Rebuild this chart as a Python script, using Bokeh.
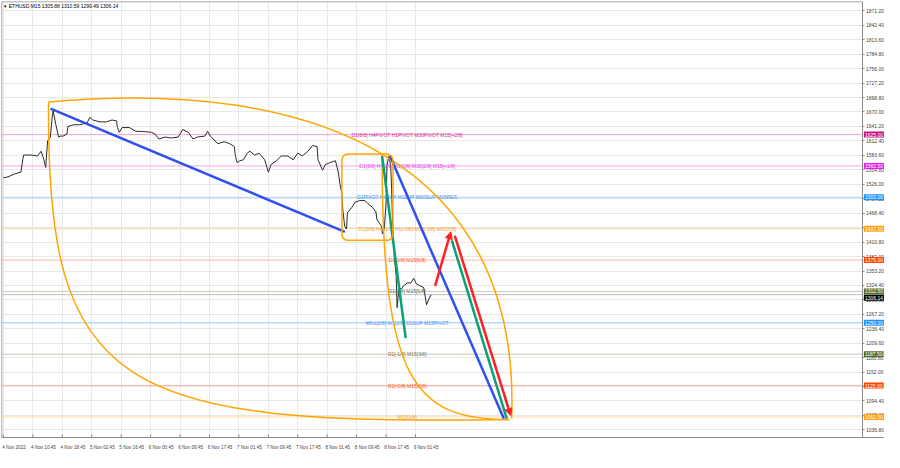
from bokeh.plotting import figure
from bokeh.models import (Range1d, FixedTicker, ColumnDataSource, Label,
                          BoxAnnotation, Arrow, NormalHead)
from bokeh.core.properties import value
from bokeh.embed import file_html
from bokeh.resources import INLINE

FONT = "Liberation Sans"

SYMBOL = "ETHUSD,M15"
LAST_OHLC = [1305.88, 1310.59, 1299.49, 1306.14]

# price path (bar index, close)
BAR = [0, 5, 12, 19, 21, 22, 30, 37, 41, 44,
       46, 48, 51, 53, 54, 57, 60, 62, 65, 69,
       70, 76, 83, 91, 94, 97, 105, 112, 118, 123,
       124, 126, 129, 137, 144, 150, 161, 165, 169, 176,
       182, 190, 195, 201, 206, 211, 219, 222, 225, 233,
       240, 246, 251, 252, 254, 257, 261, 265, 268, 273,
       278, 284, 288, 291, 297, 302, 309, 315, 320, 325,
       331, 336, 341, 342, 347, 350, 355, 361, 364, 366,
       368, 369, 371, 373, 374, 379, 382, 387, 393, 396,
       401, 405, 406, 411, 412, 414, 416, 417, 419, 421,
       422, 423, 425, 427, 428, 430, 433, 435, 439, 443,
       446, 449, 453, 457, 460, 462, 465]
CLOSE = [1538.9, 1540.8, 1546.5, 1550.2, 1574.8, 1584.3, 1584.3, 1582.4, 1591.8, 1574.8,
         1559.7, 1612.5, 1620.1, 1659.7, 1672.9, 1644.6, 1620.1, 1622.0, 1622.0, 1625.8,
         1640.9, 1644.6, 1644.6, 1648.4, 1659.7, 1654.1, 1650.3, 1650.3, 1654.1, 1652.2,
         1639.0, 1629.5, 1639.0, 1639.0, 1631.4, 1631.4, 1629.5, 1625.8, 1616.3, 1620.1,
         1618.2, 1620.1, 1635.2, 1629.5, 1616.3, 1620.1, 1622.0, 1631.4, 1622.0, 1606.9,
         1610.7, 1606.9, 1601.2, 1584.3, 1569.1, 1572.9, 1574.8, 1588.0, 1591.8, 1584.3,
         1588.0, 1574.8, 1550.2, 1565.3, 1572.9, 1582.4, 1582.4, 1574.8, 1588.0, 1582.4,
         1591.8, 1603.1, 1601.2, 1574.8, 1554.0, 1565.3, 1569.1, 1572.9, 1550.2, 1525.7,
         1506.8, 1474.7, 1442.6, 1436.9, 1469.1, 1480.4, 1489.8, 1493.6, 1493.6, 1487.9,
         1480.4, 1471.0, 1455.8, 1442.6, 1427.5, 1436.9, 1487.9, 1563.5, 1582.4, 1563.5,
         1518.1, 1455.8, 1380.3, 1342.6, 1280.3, 1318.0, 1318.0, 1323.7, 1329.4, 1329.4,
         1338.8, 1327.5, 1323.7, 1319.9, 1285.9, 1295.4, 1306.1]

TIME_TICKS = [0, 32, 64, 96, 128, 160, 192, 224, 256, 288, 320, 352, 384, 416, 448]
TIME_LABELS = ["4 Nov 2022", "4 Nov 10:45", "4 Nov 18:45", "5 Nov 02:45", "5 Nov 16:45",
               "6 Nov 00:45", "6 Nov 09:45", "6 Nov 17:45", "7 Nov 01:45", "7 Nov 09:45",
               "7 Nov 17:45", "8 Nov 01:45", "8 Nov 09:45", "8 Nov 17:45", "9 Nov 01:45"]
LABEL_SHIFT = 11.5  # MT4 writes the time to the right of its tick

PRICE_TICKS = [1871.2, 1842.4, 1813.6, 1784.8, 1756.0, 1727.2, 1698.8, 1670.0, 1641.2,
               1612.4, 1583.6, 1554.8, 1526.0, 1497.2, 1468.4, 1439.6, 1410.8, 1382.0,
               1353.2, 1324.4, 1296.0, 1267.2, 1238.4, 1209.6, 1180.8, 1152.0, 1123.2,
               1094.4, 1065.6, 1036.8]

LEVELS = [1625.0, 1562.5, 1500.0, 1437.5, 1375.0, 1312.5, 1250.0, 1187.5, 1125.0, 1062.5]
LEVEL_TEXT = ["D1[8/8] H4PIVOT H1PIVOT M30PIVOT M15[+2/8]",
              "D1[5/8] H4[2/8] H1[2/8] M30[2/8] M15[+1/8]",
              "D1PIVOT H4SUP H1SUP M30SUP M15RES",
              "D1[3/8] H4[-2/8] H1[-2/8] M30[-2/8] M15[7/8]",
              "D1[2/8] M15[6/8]",
              "D1[1/8] M15[5/8]",
              "MN1[2/8] W1[2/8] D1SUP M15PIVOT",
              "D1[-1/8] M15[3/8]",
              "D1[-2/8] M15[2/8]",
              "M15[1/8]"]
LEVEL_LINE_COLOR = ["#f2a9d2", "#f3a6f3", "#a9d3fb", "#ffd9a3", "#ffb5a3",
                    "#c9c9b6", "#8fc5fb", "#c9c9b6", "#ffb5a3", "#ffd9a3"]
LEVEL_TEXT_COLOR = ["#cf2f92", "#e23ee2", "#3f93ea", "#f2a23a", "#ff5a36",
                    "#77775a", "#3a95f5", "#77775a", "#ff5a36", "#f2a23a"]
LEVEL_BOX_COLOR = ["#c71585", "#ee1cee", "#1e90ff", "#ffa010", "#ff4500",
                   "#556b2f", "#1e90ff", "#556b2f", "#ff4500", "#ffa010"]
LEVEL_TEXT_BAR = 439

BID = LAST_OHLC[3]

# drawing objects (bar index, price)
BLUE_TRENDS = {"x0": [51.2, 420.3], "y0": [1676.7, 1582.4],
               "x1": [371.2, 544.0], "y1": [1431.3, 1059.4]}
GREEN_TRENDS = {"x0": [411.7, 487.5], "y0": [1582.4, 1414.3],
                "x1": [437.3, 547.2], "y1": [1219.8, 1059.4]}
RED_ARROWS = {"x0": [469.3, 490.7], "y0": [1323.7, 1423.7],
              "x1": [486.4, 551.5], "y1": [1431.3, 1065.3]}
ARCS = {"x0": [49.1, 49.1, 411.7], "y0": [1689.9, 1689.9, 1584.3],
        "cx0": [339.2, 45.9, 411.7], "cy0": [1739.0, 1116.0, 1134.9],
        "cx1": [563.2, 125.9, 445.9], "cy1": [1569.1, 1044.3, 1057.5],
        "x1": [552.5, 550.4, 549.3], "y1": [1059.4, 1057.5, 1057.5]}
BOX = {"left": 368.0, "right": 423.5, "top": 1586.1, "bottom": 1414.3}

X0, X1, XR = -2.1, 934.4, 957.9   # chart start, price-scale line, canvas end
Y0, Y1 = 1021.6, 1890.1

p = figure(width=884, height=452, x_range=Range1d(X0, XR), y_range=Range1d(Y0, Y1),
           y_axis_location="right", output_backend="svg", toolbar_location=None,
           min_border_left=1, min_border_top=1, min_border_right=0, min_border_bottom=8)
p.background_fill_color = "white"
p.border_fill_color = "white"
p.outline_line_color = None

# grid
p.xgrid.ticker = FixedTicker(ticks=TIME_TICKS)
p.ygrid.ticker = FixedTicker(ticks=PRICE_TICKS)
for g in (p.xgrid, p.ygrid):
    g.grid_line_color = "#e8e8e8"
    g.grid_line_width = 1

# mask the price-scale strip (keeps the grid inside the chart only)
p.quad(left=[X1], right=[XR], bottom=[Y0], top=[Y1], fill_color="white", line_color=None)
# chart border (left and top)
p.segment(x0=[X0, X0], y0=[Y0, Y1], x1=[X0, X1], y1=[Y1, Y1], color="#8c8c8c", line_width=1.5)
# bottom tick marks at each time label
p.segment(x0=TIME_TICKS, y0=[Y0] * len(TIME_TICKS), x1=TIME_TICKS,
          y1=[Y0 + 6] * len(TIME_TICKS), color="#8c8c8c", line_width=1)

# axes
xa = p.xaxis[0]
shifted = [t + LABEL_SHIFT for t in TIME_TICKS]
xa.ticker = FixedTicker(ticks=shifted)
xa.major_label_overrides = {t: l for t, l in zip(shifted, TIME_LABELS)}
xa.major_label_text_font = FONT
xa.major_label_text_font_size = "4.6px"
xa.major_label_standoff = 1
xa.major_tick_line_color = None
xa.minor_tick_line_color = None
xa.axis_line_color = "#8c8c8c"

ya = p.yaxis[0]
ya.fixed_location = X1
ya.ticker = FixedTicker(ticks=PRICE_TICKS)
ya.major_label_overrides = {t: f"{t:.2f}" for t in PRICE_TICKS}
ya.major_label_text_font = FONT
ya.major_label_text_font_size = "5px"
ya.major_label_standoff = 1
ya.major_tick_out = 2
ya.major_tick_in = 0
ya.minor_tick_line_color = None
ya.axis_line_color = "#8c8c8c"
ya.major_tick_line_color = "#8c8c8c"

# level lines
lv = ColumnDataSource(dict(y=LEVELS, x0=[X0] * len(LEVELS), x1=[X1] * len(LEVELS),
                           lc=LEVEL_LINE_COLOR, tc=LEVEL_TEXT_COLOR, txt=LEVEL_TEXT,
                           tx=[LEVEL_TEXT_BAR] * len(LEVELS)))
p.segment(x0="x0", y0="y", x1="x1", y1="y", color="lc", line_width=1, source=lv)
p.segment(x0=[X0], y0=[BID], x1=[X1], y1=[BID], color="#c0c0c0", line_width=1)

# price
p.line(BAR, CLOSE, color="#2b2b2b", line_width=1)

# level captions
p.text(x="tx", y="y", text="txt", text_color="tc", source=lv,
       text_font=value(FONT), text_font_size="5px",
       text_align="center", text_baseline="middle")

# orange objects
p.add_layout(BoxAnnotation(left=BOX["left"], right=BOX["right"], top=BOX["top"],
                           bottom=BOX["bottom"], fill_alpha=0, line_color="#ffa500",
                           line_alpha=1.0, line_width=1.5, border_radius=6, level="glyph"))
p.bezier(x0="x0", y0="y0", x1="x1", y1="y1", cx0="cx0", cy0="cy0", cx1="cx1", cy1="cy1",
         source=ColumnDataSource(ARCS), line_color="#ffa500", line_width=1.5)

# trend lines
p.segment(x0="x0", y0="y0", x1="x1", y1="y1", source=ColumnDataSource(BLUE_TRENDS),
          line_color="#2f4ff0", line_width=2.5)
p.segment(x0="x0", y0="y0", x1="x1", y1="y1", source=ColumnDataSource(GREEN_TRENDS),
          line_color="#0aa07a", line_width=2.5)
for i in range(len(RED_ARROWS["x0"])):
    p.add_layout(Arrow(end=NormalHead(size=7, fill_color="#ff2020", line_color="#ff2020"),
                       x_start=RED_ARROWS["x0"][i], y_start=RED_ARROWS["y0"][i],
                       x_end=RED_ARROWS["x1"][i], y_end=RED_ARROWS["y1"][i],
                       line_color="#ff2020", line_width=2.5))

# price boxes on the scale
for lvl, col in zip(LEVELS, LEVEL_BOX_COLOR):
    p.add_layout(Label(x=X1, y=lvl, text=f"{lvl:.2f}", text_color="white",
                       text_font=FONT, text_font_size="5px", text_align="left",
                       text_baseline="middle", background_fill_color=col, padding=1,
                       x_offset=1))
p.add_layout(Label(x=X1, y=BID, text=f"{BID:.2f}", text_color="white",
                   text_font=FONT, text_font_size="5px", text_align="left",
                   text_baseline="top", background_fill_color="#000000", padding=1,
                   x_offset=1))

# title
p.add_layout(Label(x=1, y=1880.6, text="\u25BE " + SYMBOL + "  " + " ".join(f"{v:.2f}" for v in LAST_OHLC),
                   text_font=FONT, text_font_size="5px", text_color="#000000",
                   text_baseline="middle"))

open("out.html", "w").write(file_html(p, INLINE))
